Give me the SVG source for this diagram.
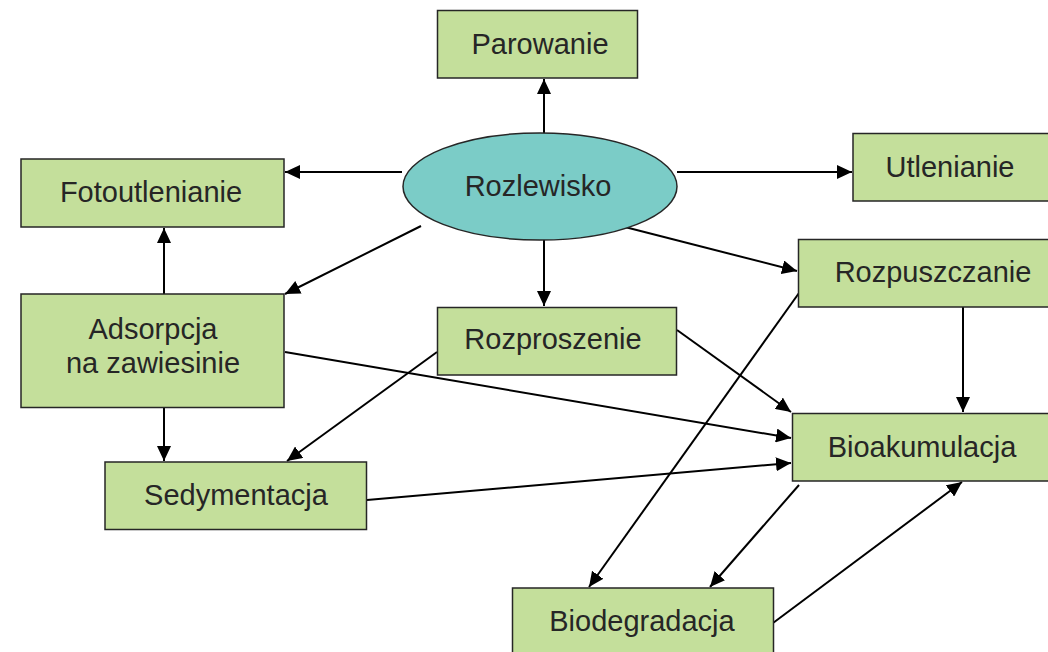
<svg xmlns="http://www.w3.org/2000/svg" width="1048" height="652" viewBox="0 0 1048 652">
<style>
.box{fill:#c4df9b;stroke:#262626;stroke-width:1.5}
.ell{fill:#7bccc7;stroke:#262626;stroke-width:1.5}
.t{font-family:"Liberation Sans",Arial,sans-serif;font-size:29px;fill:#262626;text-anchor:middle}
.c{stroke:#000;stroke-width:2;fill:none;marker-end:url(#ah)}
</style>
<defs>
<marker id="ah" markerUnits="userSpaceOnUse" markerWidth="16" markerHeight="14" refX="15" refY="7" orient="auto">
<path d="M0,0 L15,7 L0,14 z" fill="#000"/>
</marker>
</defs>
<rect width="1048" height="652" fill="#fff"/>
<g id="connectors">
<line class="c" x1="544" y1="133" x2="544" y2="79"/>
<line class="c" x1="402" y1="172" x2="285" y2="172"/>
<line class="c" x1="677" y1="172" x2="852" y2="172"/>
<line class="c" x1="421" y1="226" x2="285" y2="294"/>
<line class="c" x1="544" y1="240" x2="544" y2="306"/>
<line class="c" x1="621" y1="226" x2="797" y2="271"/>
<line class="c" x1="164" y1="294" x2="164" y2="228"/>
<line class="c" x1="164" y1="408" x2="164" y2="461"/>
<line class="c" x1="285" y1="352" x2="791" y2="438"/>
<line class="c" x1="367" y1="500" x2="791" y2="463"/>
<line class="c" x1="437" y1="352" x2="287" y2="461"/>
<line class="c" x1="677" y1="330" x2="791" y2="412"/>
<line class="c" x1="799" y1="293" x2="589" y2="587"/>
<line class="c" x1="963" y1="307" x2="963" y2="412"/>
<line class="c" x1="799" y1="485" x2="710" y2="587"/>
<line class="c" x1="773" y1="623" x2="962" y2="482"/>
</g>
<g id="parowanie"><rect class="box" x="437.5" y="10.5" width="200" height="67.5"/><text class="t" x="540" y="54">Parowanie</text></g>
<g id="rozlewisko"><ellipse class="ell" cx="540" cy="186.5" rx="137" ry="53.5"/><text class="t" x="538" y="196">Rozlewisko</text></g>
<g id="fotoutlenianie"><rect class="box" x="21" y="159" width="263" height="68"/><text class="t" x="151" y="202">Fotoutlenianie</text></g>
<g id="utlenianie"><rect class="box" x="853" y="133.5" width="200" height="67.5"/><text class="t" x="950" y="177">Utlenianie</text></g>
<g id="adsorpcja"><rect class="box" x="21" y="294" width="263" height="113.5"/><text class="t" x="153" y="339">Adsorpcja</text><text class="t" x="153" y="373">na zawiesinie</text></g>
<g id="rozproszenie"><rect class="box" x="437.5" y="307.5" width="239" height="67.5"/><text class="t" x="553" y="349">Rozproszenie</text></g>
<g id="rozpuszczanie"><rect class="box" x="798.5" y="239.5" width="270" height="67.5"/><text class="t" x="933" y="282">Rozpuszczanie</text></g>
<g id="bioakumulacja"><rect class="box" x="792.5" y="413.5" width="262" height="67.5"/><text class="t" x="922" y="457">Bioakumulacja</text></g>
<g id="sedymentacja"><rect class="box" x="105" y="462" width="261.5" height="67.5"/><text class="t" x="236" y="505">Sedymentacja</text></g>
<g id="biodegradacja"><rect class="box" x="512.5" y="588" width="261" height="80"/><text class="t" x="642" y="631">Biodegradacja</text></g>
</svg>
